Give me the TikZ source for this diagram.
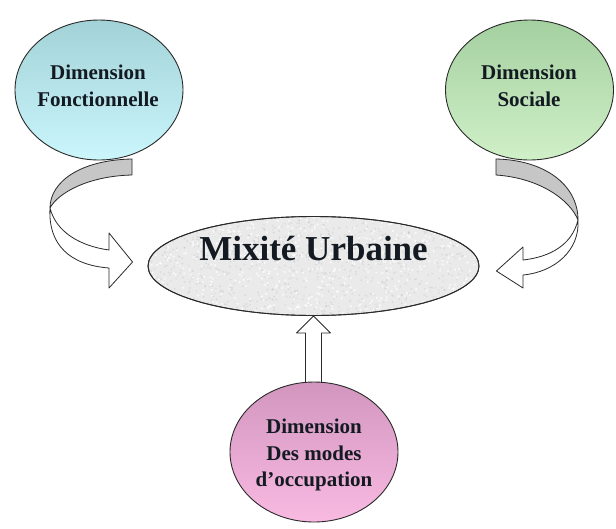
\documentclass[tikz,border=0pt]{standalone}
\usepackage{fontspec}
\setmainfont{Liberation Serif}
\usetikzlibrary{shapes.geometric,calc}
\definecolor{fonctop}{HTML}{A2D2D7}
\definecolor{foncbot}{HTML}{CAF6FC}
\definecolor{soctop}{HTML}{A4D0A0}
\definecolor{socbot}{HTML}{D0F0C8}
\definecolor{occtop}{HTML}{D296BE}
\definecolor{occbot}{HTML}{F9BAE2}
\definecolor{mixfill}{HTML}{EAEAEA}
\definecolor{txtc}{HTML}{141A22}
\definecolor{backgr}{HTML}{C6C6C6}
\definecolor{edgec}{HTML}{2A2A2A}
\begin{document}
\begin{tikzpicture}[x=1pt,y=-1pt,
  dimcircle/.style={ellipse, draw=edgec, line width=0.9pt, minimum width=168pt, minimum height=140pt, inner sep=0pt},
  dimtext/.style={align=center, inner sep=0pt, text=txtc, font=\fontsize{21}{26.5}\selectfont\bfseries},
  ribbon/.style={draw=edgec, line width=0.8pt, line join=round, fill=white},
  ribbonback/.style={draw=edgec, line width=0.8pt, line join=round, fill=backgr}]
\useasboundingbox (0,0) rectangle (616,528);
\fill[white] (0,0) rectangle (616,528);

% central ellipse with granite-like texture
\node[ellipse, draw=edgec, line width=0.9pt, fill=mixfill, minimum width=331pt, minimum height=99pt, inner sep=0pt] (mix) at (313.5,266) {};
\begin{scope}
  \clip (313.5,266) ellipse [x radius=165pt, y radius=49pt];
  \pgfmathsetseed{7}
  \foreach \k in {1,...,900}{
    \pgfmathsetmacro{\px}{148+331*rnd}
    \pgfmathsetmacro{\py}{217+98*rnd}
    \pgfmathsetmacro{\gv}{50+30*rnd}
    \fill[black!\gv!white, opacity=0.10] (\px,\py) circle [radius=1.0pt];
  }
  \foreach \k in {1,...,600}{
    \pgfmathsetmacro{\px}{148+331*rnd}
    \pgfmathsetmacro{\py}{217+98*rnd}
    \fill[white, opacity=0.75] (\px,\py) circle [radius=1.2pt];
  }
\end{scope}
\draw[edgec, line width=0.9pt] (313.5,266) ellipse [x radius=165.5pt, y radius=49.5pt];
\node[anchor=base, inner sep=0pt, text=txtc, font=\fontsize{35}{40}\selectfont\bfseries] (mixtext) at (313.5,260) {Mixité Urbaine};

% up arrow (bottom circle -> centre)
\draw[ribbon] ($(mix.south)+(-8,68)$) -- ($(mix.south)+(-8,17)$) -- ($(mix.south)+(-17,17)$) -- (mix.south)
  -- ($(mix.south)+(17,17)$) -- ($(mix.south)+(8,17)$) -- ($(mix.south)+(8,68)$);

% circles
\node[dimcircle, shade, top color=fonctop, bottom color=foncbot] (fonc) at (99,90) {};
\node[dimtext] (fonctext) at (98,86) {Dimension\\Fonctionnelle};

\node[dimcircle, shade, top color=soctop, bottom color=socbot] (soc) at (529.5,90) {};
\node[dimtext] (soctext) at (529,86) {Dimension\\Sociale};

\node[dimcircle, shade, top color=occtop, bottom color=occbot] (occ) at (314,452) {};
\node[dimtext] (occtext) at (314,455) {Dimension\\Des modes\\d’occupation};

% left curved arrow (fonctionnelle -> centre)
\coordinate (ltwist) at (50,208);
\coordinate (ltip) at ($(mix.west)+(-15,-4)$);
\draw[ribbonback] (132,159) .. controls (80,160) and (50,182) .. (ltwist)
  .. controls (58,193) and (88,176) .. (132,175) -- cycle;
\draw[ribbon] (ltwist) .. controls (48,245) and (70,265) .. (109,268) -- (109,288) -- (ltip)
  -- (109,233) -- (109,250) .. controls (80,246) and (56,232) .. (ltwist) -- cycle;

% right curved arrow (sociale -> centre)
\coordinate (rtwist) at (578,220);
\coordinate (rtip) at ($(mix.east)+(17,5)$);
\draw[ribbonback] (496,159) .. controls (545,160) and (578,185) .. (rtwist)
  .. controls (570,200) and (540,178) .. (496,175) -- cycle;
\draw[ribbon] (rtwist) .. controls (580,250) and (555,272) .. (523,275) -- (523,288) -- (rtip)
  -- (523,247) -- (523,260) .. controls (550,257) and (572,245) .. (rtwist) -- cycle;
\end{tikzpicture}
\end{document}
